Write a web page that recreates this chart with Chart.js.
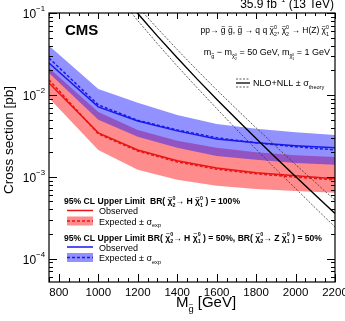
<!DOCTYPE html>
<html>
<head>
<meta charset="utf-8">
<script src="https://cdn.jsdelivr.net/npm/chart.js@4.4.1/dist/chart.umd.min.js"></script>
<style>
  html, body { margin: 0; padding: 0; background: #fff; }
  #wrap { width: 345px; height: 321px; }
</style>
</head>
<body>
<div id="wrap"><canvas id="myChart" width="345" height="321"></canvas></div>
<script>
const FONT = '"Liberation Sans", Arial, Helvetica, sans-serif';

// gluino mass points [GeV]
const massPoints = [750, 1000, 1200, 1400, 1600, 1800, 2000, 2200];

// BR(chi2 -> H chi1) = 100%  (red)
const hObserved = [0.0140, 0.00344, 0.00213, 0.00157, 0.00128, 0.00112, 0.00103, 0.00095];
const hExpected = [0.0153, 0.00335, 0.00207, 0.00152, 0.00124, 0.00109, 0.00099, 0.00092];
const hExpUp    = [0.0213, 0.0062, 0.00374, 0.00275, 0.00226, 0.0020, 0.00184, 0.00175];
const hExpDown  = [0.00918, 0.00213, 0.00122, 0.00092, 0.00078, 0.00071, 0.00067, 0.00064];

// BR(H) = 50%, BR(Z) = 50%  (blue)
const hzObserved = [0.0245, 0.00715, 0.00480, 0.00364, 0.0029, 0.0026, 0.0024, 0.00226];
const hzExpected = [0.0282, 0.00755, 0.0049, 0.00374, 0.0030, 0.0026, 0.00233, 0.00213];
const hzExpUp    = [0.0397, 0.0118, 0.0080, 0.0057, 0.0044, 0.00385, 0.0035, 0.00325];
const hzExpDown  = [0.0185, 0.00496, 0.00308, 0.00226, 0.0018, 0.00162, 0.00148, 0.0014];

// NLO+NLL gluino pair cross section
const theoryMass = [1100, 1200, 1300, 1400, 1500, 1600, 1700, 1800, 1900, 2000, 2100, 2200];
const theoryXsec = [0.191, 0.0986, 0.0522, 0.0284, 0.0157, 0.00887, 0.00507, 0.00293, 0.00171, 0.00101, 0.000598, 0.000356];
const theoryUp   = [0.229, 0.120, 0.0647, 0.0358, 0.0201, 0.01153, 0.00674, 0.00396, 0.00236, 0.00141, 0.000855, 0.000520];
const theoryDown = [0.159, 0.0808, 0.0421, 0.0225, 0.0123, 0.00682, 0.00381, 0.00217, 0.00124, 0.000721, 0.000418, 0.000244];

// axis ticks
const xTickValues = [800, 1000, 1200, 1400, 1600, 1800, 2000, 2200];
const yTickValues = [1e-4, 1e-3, 1e-2, 1e-1];
const yTickExps = ['−4', '−3', '−2', '−1'];

const RED = 'rgb(235,20,20)';
const BLUE = 'rgb(25,25,235)';
const RED_BAND = 'rgba(255,25,25,0.5)';
const BLUE_BAND = 'rgba(25,25,255,0.48)';

function pts(xs, ys) { return xs.map((x, i) => ({ x: x, y: ys[i] })); }

function line(data, color, dash, order, width) {
  return { data: data, borderColor: color, borderWidth: width || 1.5, borderDash: dash,
           pointRadius: 0, fill: false, tension: 0, order: order };
}
function bandTop(data, color, order) {
  return { data: data, borderWidth: 0, pointRadius: 0, backgroundColor: color,
           fill: '+1', tension: 0, order: order };
}
function bandLow(data, order) {
  return { data: data, borderWidth: 0, pointRadius: 0, fill: false, tension: 0, order: order };
}

// rich text: parts {t, s, dy, tilde, adv}
const T = (t, o) => Object.assign({ t: t }, o || {});
function chiP(sup, sub, s, dy) {
  s = s || 1; dy = dy || 0;
  return [T('χ', { s: s, dy: dy, tilde: true }),
          T(sup, { s: s * 0.62, dy: dy - 0.48 * s, adv: false }),
          T(sub, { s: s * 0.62, dy: dy + 0.3 * s })];
}
function rich(ctx, parts, x, y, size, weight, draw) {
  let cx = x;
  for (const p of parts) {
    const s = p.s || 1, fs = size * s, yy = y + (p.dy || 0) * size;
    ctx.font = weight + ' ' + fs + 'px ' + FONT;
    const w = ctx.measureText(p.t).width;
    if (draw) {
      ctx.fillText(p.t, cx, yy);
      if (p.tilde) {
        ctx.font = 'normal ' + (fs * 0.8) + 'px ' + FONT;
        const tw = ctx.measureText('~').width;
        ctx.fillText('~', cx + w / 2 - tw / 2, yy - fs * 0.5);
      }
    }
    if (p.adv !== false) cx += w;
  }
  return cx - x;
}
function richAt(ctx, parts, x, y, size, weight, align) {
  const w = rich(ctx, parts, 0, 0, size, weight, false);
  const x0 = align === 'right' ? x - w : align === 'center' ? x - w / 2 : x;
  rich(ctx, parts, x0, y, size, weight, true);
}

const decor = {
  id: 'decor',
  afterDraw(chart) {
    const ctx = chart.ctx, a = chart.chartArea, xs = chart.scales.x, ys = chart.scales.y;
    ctx.save();
    ctx.fillStyle = '#000';
    ctx.strokeStyle = '#000';
    ctx.textBaseline = 'alphabetic';
    ctx.textAlign = 'left';

    // frame
    ctx.lineWidth = 1.2;
    ctx.strokeRect(a.left, a.top, a.right - a.left, a.bottom - a.top);

    // x ticks (inward, bottom and top)
    ctx.lineWidth = 1;
    ctx.beginPath();
    for (let v = 750; v <= 2200; v += 50) {
      const px = Math.round(xs.getPixelForValue(v)) + 0.5;
      const major = v % 200 === 0;
      const lb = major ? 8 : 4, lt = major ? 6 : 3;
      ctx.moveTo(px, a.bottom); ctx.lineTo(px, a.bottom - lb);
      ctx.moveTo(px, a.top); ctx.lineTo(px, a.top + lt);
    }
    // y ticks (inward, left and right)
    for (let d = 1e-5; d < 0.11; d *= 10) {
      for (let k = 1; k <= 9; k++) {
        const v = k * d;
        if (v < ys.min * 0.999 || v > ys.max * 1.001) continue;
        const py = Math.round(ys.getPixelForValue(v)) + 0.5;
        const l = k === 1 ? 8 : 4;
        ctx.moveTo(a.left, py); ctx.lineTo(a.left + l, py);
        ctx.moveTo(a.right, py); ctx.lineTo(a.right - l, py);
      }
    }
    ctx.stroke();

    // y tick labels
    yTickValues.forEach((v, i) => {
      const py = ys.getPixelForValue(v);
      richAt(ctx, [T('10'), T(yTickExps[i], { s: 0.65, dy: -0.55 })], a.left - 4, py + 5, 12, 'normal', 'right');
    });

    // axis titles
    richAt(ctx, [T('M'), T('g', { s: 0.62, dy: 0.3, tilde: true }), T(' [GeV]')], 206, 307, 15, 'normal', 'center');
    ctx.save();
    ctx.translate(13, 140);
    ctx.rotate(-Math.PI / 2);
    ctx.font = '13.5px ' + FONT;
    ctx.textAlign = 'center';
    ctx.fillText('Cross section [pb]', 0, 0);
    ctx.restore();

    // lumi label
    richAt(ctx, [T('35.9 fb'), T('−1', { s: 0.62, dy: -0.5 }), T(' (13 TeV)')], 334, 8, 12, 'normal', 'right');

    // CMS
    ctx.font = 'bold 15px ' + FONT;
    ctx.fillText('CMS', 65, 35);

    // process
    const g = T('g', { tilde: true });
    richAt(ctx, [T('pp→ '), g, T(' '), g, T(', '), g, T(' → q q '), ...chiP('0', '2'), T(', '),
                 ...chiP('0', '2'), T(' → H(Z) '), ...chiP('0', '1')], 329, 33, 8.5, 'normal', 'right');
    richAt(ctx, [T('m'), T('g', { s: 0.62, dy: 0.3, tilde: true }), T(' − m'), ...chiP('0', '2', 0.62, 0.38),
                 T(' = 50 GeV, m'), ...chiP('0', '1', 0.62, 0.38), T(' = 1 GeV')], 330, 55, 9, 'normal', 'right');

    // theory legend
    ctx.lineWidth = 1.3;
    ctx.strokeStyle = '#000';
    ctx.beginPath(); ctx.moveTo(236, 83); ctx.lineTo(250, 83); ctx.stroke();
    ctx.lineWidth = 0.8;
    ctx.strokeStyle = '#333';
    ctx.setLineDash([2, 1.5]);
    ctx.beginPath(); ctx.moveTo(236, 79); ctx.lineTo(250, 79); ctx.moveTo(236, 87); ctx.lineTo(250, 87); ctx.stroke();
    ctx.setLineDash([]);
    richAt(ctx, [T('NLO+NLL ± σ'), T('theory', { s: 0.62, dy: 0.3 })], 253, 86, 9, 'normal', 'left');

    // limit legends
    const legendBlock = (y0, header, lineCol, bandCol) => {
      richAt(ctx, header, 64, y0, 8.6, 'bold', 'left');
      ctx.strokeStyle = lineCol;
      ctx.lineWidth = 1.5;
      ctx.beginPath(); ctx.moveTo(67, y0 + 6.5); ctx.lineTo(93, y0 + 6.5); ctx.stroke();
      ctx.fillStyle = bandCol;
      ctx.fillRect(67, y0 + 12.5, 26, 9);
      ctx.setLineDash([3, 2]);
      ctx.beginPath(); ctx.moveTo(67, y0 + 17); ctx.lineTo(93, y0 + 17); ctx.stroke();
      ctx.setLineDash([]);
      ctx.fillStyle = '#000';
      richAt(ctx, [T('Observed')], 99, y0 + 10, 9, 'normal', 'left');
      richAt(ctx, [T('Expected ± σ'), T('exp', { s: 0.62, dy: 0.3 })], 99, y0 + 20.5, 9, 'normal', 'left');
    };
    legendBlock(204, [T('95% CL Upper Limit  BR( '), ...chiP('0', '2'), T('→ H '), ...chiP('0', '1'), T(' ) = 100%')], RED, RED_BAND);
    legendBlock(240.5, [T('95% CL Upper Limit BR( '), ...chiP('0', '2'), T('→ H '), ...chiP('0', '1'), T(' ) = 50%, BR( '),
                        ...chiP('0', '2'), T('→ Z '), ...chiP('0', '1'), T(' ) = 50%')], BLUE, BLUE_BAND);
    ctx.restore();
  }
};

const ctx = document.getElementById('myChart');

new Chart(ctx, {
  type: 'line',
  data: {
    datasets: [
      line(pts(theoryMass, theoryXsec), '#000', [], 0, 1.4),
      line(pts(theoryMass, theoryUp), '#333', [2, 1.5], 0, 0.8),
      line(pts(theoryMass, theoryDown), '#333', [2, 1.5], 0, 0.8),
      line(pts(massPoints, hzObserved), BLUE, [], 1),
      line(pts(massPoints, hzExpected), BLUE, [3, 2], 1),
      line(pts(massPoints, hObserved), RED, [], 1),
      line(pts(massPoints, hExpected), RED, [3, 2], 1),
      bandTop(pts(massPoints, hzExpUp), BLUE_BAND, 2),
      bandLow(pts(massPoints, hzExpDown), 2),
      bandTop(pts(massPoints, hExpUp), RED_BAND, 3),
      bandLow(pts(massPoints, hExpDown), 3)
    ]
  },
  options: {
    responsive: false,
    animation: false,
    devicePixelRatio: 1,
    layout: { padding: { left: 0, right: 10, top: 13, bottom: 0 } },
    plugins: { legend: { display: false }, tooltip: { enabled: false } },
    scales: {
      x: {
        type: 'linear',
        min: 750,
        max: 2200,
        grid: { display: false, drawTicks: false },
        border: { display: false },
        ticks: { color: '#000', padding: 4, font: { family: FONT, size: 11.5 }, maxRotation: 0,
                 callback: v => String(v) },
        afterBuildTicks: s => { s.ticks = xTickValues.map(v => ({ value: v })); },
        afterFit: s => { s.height = 39; s.paddingLeft = 0; s.paddingRight = 0; }
      },
      y: {
        type: 'logarithmic',
        min: 5.2e-5,
        max: 0.1,
        grid: { display: false, drawTicks: false },
        border: { display: false },
        ticks: { display: false },
        afterBuildTicks: s => { s.ticks = yTickValues.map(v => ({ value: v })); },
        afterFit: s => { s.width = 49; s.paddingTop = 0; s.paddingBottom = 0; }
      }
    }
  },
  plugins: [decor]
});
</script>
</body>
</html>
